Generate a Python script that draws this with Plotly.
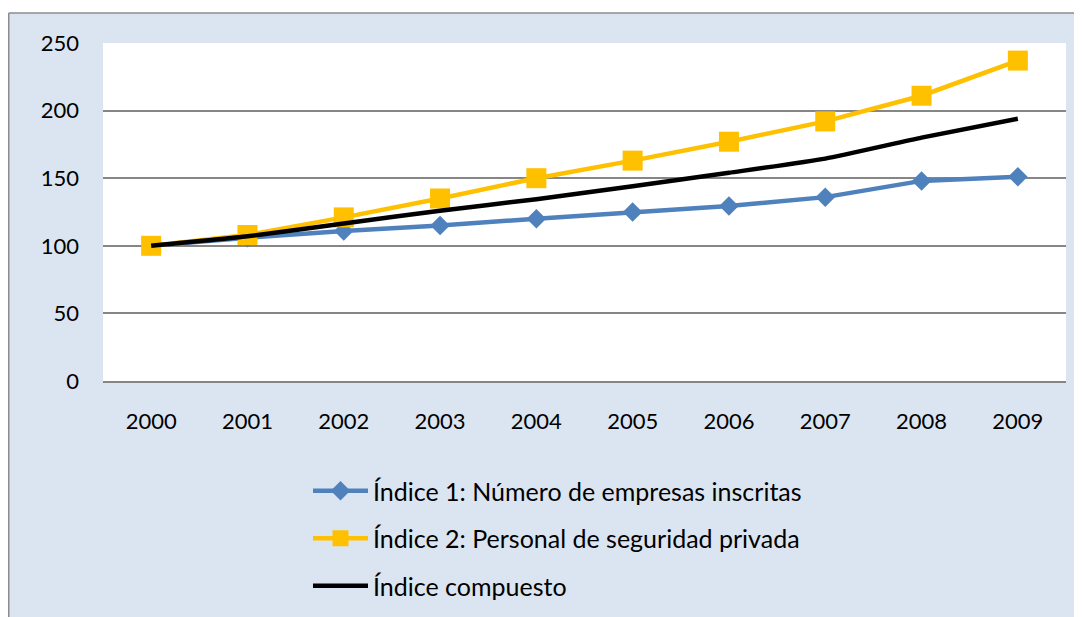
import plotly.graph_objects as go

years = ["2000", "2001", "2002", "2003", "2004", "2005", "2006", "2007", "2008", "2009"]
indice1 = [100, 106, 111, 115, 120, 125, 129.5, 136, 148, 151]
indice2 = [100, 108, 121, 135, 150, 163, 177, 192, 211, 237]
compuesto = [100, 107, 116.5, 126, 134.5, 144, 154, 164.5, 180, 194]

names = ["Índice 1: Número de empresas inscritas",
         "Índice 2: Personal de seguridad privada",
         "Índice compuesto"]

W, H = 1082, 617
L, R, T, B = 95, 24, 35, 244
pw, ph = W - L - R, H - T - B

def px_x(p):
    return (p - L) / pw

def px_y(p):
    return (H - B - p) / ph

FONT = "Lato"
fig = go.Figure()
fig.add_trace(go.Scatter(x=years, y=indice1, name=names[0], mode="lines+markers",
                         line=dict(color="#4F81BD", width=4.5),
                         marker=dict(symbol="diamond", size=15, color="#4F81BD"),
                         legendgroup="a"))
fig.add_trace(go.Scatter(x=years, y=indice2, name=names[1], mode="lines+markers",
                         line=dict(color="#FFC000", width=4.5),
                         marker=dict(symbol="square", size=20, color="#FFC000"),
                         legendgroup="b"))
fig.add_trace(go.Scatter(x=years, y=compuesto, name=names[2], mode="lines",
                         line=dict(color="#000000", width=4.5, shape="spline", smoothing=0.5),
                         legendgroup="c"))

shapes = [
    dict(type="rect", xref="paper", yref="paper", x0=px_x(-10), x1=px_x(W + 10),
         y0=px_y(-10), y1=px_y(5), fillcolor="white", line=dict(width=0), layer="below"),
    dict(type="line", xref="paper", yref="paper", x0=px_x(0.75), x1=px_x(W + 10),
         y0=px_y(5), y1=px_y(5), line=dict(color="#8C8C8C", width=1.5)),
    dict(type="line", xref="paper", yref="paper", x0=px_x(0.75), x1=px_x(0.75),
         y0=px_y(5), y1=px_y(H + 10), line=dict(color="#8C8C8C", width=1.5)),
]

fig.update_layout(
    width=W, height=H,
    margin=dict(l=L, r=R, t=T, b=B, autoexpand=False),
    paper_bgcolor="#DBE5F1",
    plot_bgcolor="white",
    font=dict(family=FONT, size=22, color="black"),
    showlegend=True,
    legend=dict(x=px_x(300), xanchor="left", y=px_y(460), yanchor="top",
                orientation="v", bgcolor="rgba(0,0,0,0)", itemwidth=55,
                tracegroupgap=12, traceorder="grouped",
                font=dict(family=FONT, size=25, color="black")),
    shapes=shapes,
    xaxis=dict(type="category", range=[-0.5, 9.5], showgrid=False,
               showline=True, linecolor="#868686", linewidth=1.5,
               ticks="", ticklabelstandoff=20, tickfont=dict(family=FONT, size=22)),
    yaxis=dict(range=[0, 250], dtick=50, tick0=0, showgrid=True, gridcolor="#868686",
               gridwidth=1.5, zeroline=False, showline=False, ticks="",
               ticklabelstandoff=23, tickfont=dict(family=FONT, size=22)),
)

fig.write_html("out.html")
